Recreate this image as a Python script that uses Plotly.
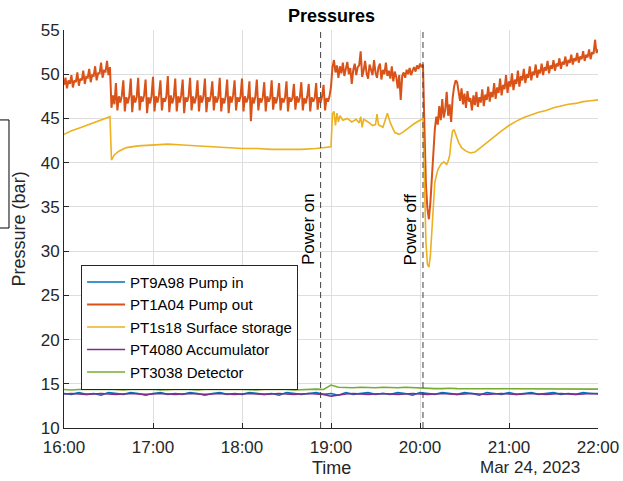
import pandas as pd
import plotly.graph_objects as go

# ---------------- data ----------------
START = pd.Timestamp("2023-03-24 16:00")
X_RANGE = ["2023-03-24 16:00", "2023-03-24 22:00"]
POWER_ON = "2023-03-24 18:53"
POWER_OFF = "2023-03-24 20:02"

series_names = ["PT9A98 Pump in", "PT1A04 Pump out", "PT1s18 Surface storage",
                "PT4080 Accumulator", "PT3038 Detector"]
series_colors = ["#0072BD", "#D95319", "#EDB120", "#7E2F8E", "#77AC30"]

# PT1A04 Pump out, one value per minute from 16:00 to 22:00
pump_out = [
    48.8, 49.6, 48.4, 49.3, 48.9, 49.9, 48.5, 49.3, 49.1, 50.2,
    48.7, 49.5, 49.3, 50.4, 48.9, 49.7, 49.6, 50.6, 49.1, 49.9,
    49.8, 50.9, 49.3, 50.1, 50.1, 51.3, 49.6, 50.4, 50.3, 51.5,
    49.9, 50.8,
    46.2, 47.6, 46.6, 49.0, 45.9,
    47.5, 46.8, 47.6, 49.3, 45.8,
    47.4, 46.7, 47.5, 49.5, 45.7,
    47.6, 46.8, 47.4, 49.6, 45.9,
    47.5, 46.9, 47.6, 49.4, 45.6,
    47.4, 46.7, 47.5, 49.7, 45.8,
    47.5, 46.8, 47.6, 49.3, 45.9,
    47.3, 46.9, 47.5, 49.8, 45.7,
    47.6, 46.7, 47.4, 49.5, 45.8,
    47.5, 46.8, 47.6, 49.4, 45.6,
    47.4, 46.9, 47.5, 49.6, 45.9,
    47.5, 46.7, 47.4, 49.3, 45.8,
    47.6, 46.8, 47.5, 49.5, 45.7,
    47.4, 46.9, 47.6, 49.2, 45.9,
    47.5, 46.8, 47.4, 49.6, 45.8,
    47.3, 46.7, 47.5, 49.4, 45.6,
    47.5, 46.8, 47.6, 49.3, 45.9,
    47.4, 46.9, 47.5, 49.5, 45.8,
    47.5, 46.8, 47.3, 49.2, 44.7,
    47.4, 46.7, 47.5, 49.4, 45.9,
    47.3, 46.8, 47.4, 49.1, 45.8,
    47.5, 46.9, 47.3, 49.3, 46.0,
    47.4, 46.7, 47.5, 49.0, 45.9,
    47.3, 46.8, 47.4, 49.2, 45.8,
    47.4, 46.9, 47.3, 48.9, 46.0,
    47.5, 46.8, 47.4, 49.1, 45.9,
    47.3, 46.7, 47.5, 48.9, 45.8,
    47.4, 46.9, 47.3, 49.0, 46.0,
    47.4, 46.8, 47.5, 48.8, 45.9,
    47.3, 46.9, 47.5, 48.6,
    50.8, 51.6, 50.2, 51.0, 49.6, 50.9, 50.1, 51.3, 49.8, 50.6,
    51.4, 50.0, 50.7, 48.9, 50.5, 51.2, 49.9, 50.8, 51.0, 52.6,
    49.7, 50.4, 51.5, 50.1, 49.5, 51.1, 50.3, 49.9, 51.6, 50.2,
    49.6, 50.8, 51.2, 49.4, 50.5, 50.0, 51.3, 49.8, 50.4, 49.5,
    50.9, 49.2, 50.3, 49.7, 48.4, 49.9, 47.1, 49.8, 50.2, 49.6,
    50.5, 50.0, 50.7, 49.9, 50.4, 50.8, 50.3, 51.0, 50.6, 51.2, 50.8,
    51.1, 44.0, 37.5, 34.8, 33.6, 35.5, 38.4, 41.5, 43.8, 45.2,
    44.3, 46.4, 44.8, 47.2, 45.1, 46.0, 48.0, 45.3, 46.6, 44.6,
    47.3, 48.6, 49.3, 49.1, 48.2, 47.0, 48.4, 46.6, 47.8, 46.2,
    48.1, 46.9, 47.3, 45.9, 47.6, 46.5, 48.0, 46.3, 47.4, 46.8,
    48.3, 46.4, 47.7, 47.1, 48.6, 46.9, 48.0, 47.4, 49.0, 47.2,
    48.5, 47.9, 49.5, 47.6, 48.8, 48.3, 49.9, 47.9, 49.2, 48.6,
    50.1, 48.2, 49.4, 48.9, 50.4, 48.6, 49.8, 49.3, 50.6, 49.0,
    50.0, 49.6, 50.9, 49.3, 50.3, 49.9, 51.1, 49.6, 50.5, 50.1,
    51.2, 49.9, 50.8, 50.4, 51.5, 50.1, 51.0, 50.6, 51.6, 50.4,
    51.2, 50.9, 51.8, 50.6, 51.4, 51.1, 52.0, 50.9, 51.6, 51.3,
    52.2, 51.1, 51.8, 51.5, 52.4, 51.3, 52.0, 51.7, 52.6, 51.5,
    52.2, 51.9, 52.8, 51.7, 52.5, 52.3, 53.9, 52.4, 52.8,
]
pump_out_minutes = list(range(len(pump_out)))

# PT1s18 Surface storage (minutes after 16:00, value)
storage_minutes = [
    0, 5, 10, 15, 20, 25, 30, 31, 32, 34,
    37, 42, 50, 60, 70, 80, 90, 100, 110, 120,
    130, 140, 150, 160, 170, 178, 180, 181, 182, 183,
    184, 185, 186, 188, 191, 194, 197, 199, 200, 201,
    202, 205, 208, 210, 211, 212, 215, 218, 220, 223,
    226, 229, 232, 236, 240, 242, 243, 244, 245, 246,
    247, 248, 249, 250, 252, 254, 256, 258, 259, 260,
    261, 262, 263, 264, 266, 268, 271, 274, 277, 280,
    285, 290, 295, 300, 305, 310, 315, 320, 325, 330,
    335, 340, 345, 350, 355, 360,
]
storage = [
    43.2, 43.6, 43.9, 44.2, 44.5, 44.8, 45.1, 45.2, 40.3, 40.9,
    41.3, 41.7, 41.9, 42.0, 42.1, 42.0, 41.9, 41.8, 41.7, 41.6,
    41.6, 41.5, 41.5, 41.5, 41.6, 41.7, 41.8, 45.5, 45.8, 44.2,
    45.6, 44.6, 45.3, 44.8, 45.0, 44.6, 44.9, 44.5, 45.2, 44.0,
    44.9, 44.6, 44.2, 44.3, 45.5, 44.3, 44.0, 45.6, 44.5, 43.4,
    43.2, 43.5, 43.9, 44.4, 44.8, 45.0, 38.0, 31.0, 28.5, 28.2,
    29.5, 32.5, 35.5, 37.8, 39.2, 39.8, 40.1, 39.8, 40.2, 40.8,
    42.5, 43.6, 43.7, 43.2, 42.3, 41.7, 41.3, 41.1, 41.2, 41.6,
    42.3, 42.9, 43.6, 44.2, 44.7, 45.1, 45.4, 45.7, 45.9, 46.2,
    46.4, 46.6, 46.7, 46.9, 47.0, 47.1,
]

# low-pressure sensors, one value every 5 minutes
low_minutes = list(range(0, 361, 5))
pump_in = [
    13.9, 13.8, 14.0, 13.8, 13.9, 13.7, 14.0, 13.9, 13.8, 14.0,
    13.9, 13.7, 13.9, 14.0, 13.8, 13.9, 13.8, 14.0, 13.9, 13.7,
    13.9, 14.0, 13.8, 13.9, 13.8, 14.0, 13.9, 13.8, 13.9, 13.7,
    14.0, 13.9, 13.8, 13.9, 14.0, 13.8, 13.9, 13.7, 14.0, 13.8,
    13.9, 14.0, 13.8, 13.9, 13.8, 14.0, 13.9, 13.7, 14.0, 13.9,
    13.8, 14.0, 13.9, 13.8, 14.0, 13.9, 13.7, 14.0, 13.9, 13.8,
    14.0, 13.8, 13.9, 14.0, 13.8, 13.9, 14.0, 13.8, 13.9, 13.8,
    14.0, 13.9, 13.9,
]
accumulator = [
    13.85, 13.9, 13.85, 13.8, 13.85, 13.9, 13.85, 13.8, 13.85, 13.9,
    13.85, 13.8, 13.85, 13.9, 13.85, 13.8, 13.85, 13.9, 13.85, 13.8,
    13.85, 13.9, 13.85, 13.8, 13.85, 13.9, 13.85, 13.8, 13.85, 13.9,
    13.85, 13.8, 13.85, 13.9, 13.85, 13.8, 13.6, 13.75, 13.85, 13.9,
    13.85, 13.8, 13.85, 13.9, 13.85, 13.8, 13.85, 13.9, 13.85, 13.8,
    13.85, 13.9, 13.85, 13.8, 13.85, 13.9, 13.85, 13.8, 13.85, 13.9,
    13.85, 13.8, 13.85, 13.9, 13.85, 13.8, 13.85, 13.9, 13.85, 13.8,
    13.85, 13.9, 13.85,
]
detector = [
    14.35, 14.3, 14.35, 14.35, 14.3, 14.35, 14.4, 14.35, 14.3, 14.35,
    14.35, 14.4, 14.35, 14.3, 14.35, 14.35, 14.4, 14.35, 14.3, 14.35,
    14.35, 14.3, 14.35, 14.4, 14.35, 14.35, 14.3, 14.35, 14.35, 14.4,
    14.35, 14.3, 14.35, 14.35, 14.4, 14.35, 14.85, 14.6, 14.55, 14.55,
    14.6, 14.55, 14.55, 14.6, 14.55, 14.55, 14.6, 14.55, 14.55, 14.5,
    14.45, 14.45, 14.5, 14.45, 14.45, 14.4, 14.45, 14.45, 14.4, 14.45,
    14.45, 14.4, 14.45, 14.4, 14.45, 14.4, 14.4, 14.45, 14.4, 14.4,
    14.4, 14.45, 14.4,
]

y_ticks = [10, 15, 20, 25, 30, 35, 40, 45, 50, 55]


def to_time(mins):
    return START + pd.to_timedelta(mins, unit="m")


# ---------------- figure ----------------
FONT = "Liberation Sans, Arial, Helvetica, sans-serif"
INK = "#262626"
GRID = "#dedede"

xs = [to_time(low_minutes), to_time(pump_out_minutes), to_time(storage_minutes),
      to_time(low_minutes), to_time(low_minutes)]
ys = [pump_in, pump_out, storage, accumulator, detector]
widths = [1.6, 2.0, 1.6, 1.6, 1.6]

fig = go.Figure()
for name, color, x, y, w in zip(series_names, series_colors, xs, ys, widths):
    fig.add_trace(go.Scatter(x=x, y=y, mode="lines", name=name,
                             line=dict(color=color, width=w)))

for t in (POWER_ON, POWER_OFF):
    fig.add_shape(type="line", xref="x", yref="paper", x0=t, x1=t, y0=0, y1=1,
                  line=dict(color="#404040", width=1, dash="6px,4px"))

for t, label in ((POWER_ON, "Power on"), (POWER_OFF, "Power off")):
    fig.add_annotation(x=t, y=0.5, xref="x", yref="paper", text=label,
                       textangle=-90, showarrow=False, xanchor="right",
                       yanchor="middle", xshift=-1,
                       font=dict(family=FONT, size=17, color="black"))

# axis labels / date
fig.add_annotation(x=0.5, y=-0.1, xref="paper", yref="paper", text="Time",
                   showarrow=False, xanchor="center", yanchor="middle",
                   font=dict(family=FONT, size=18, color=INK))
fig.add_annotation(x=0.873, y=-0.098, xref="paper", yref="paper", text="Mar 24, 2023",
                   showarrow=False, xanchor="center", yanchor="middle",
                   font=dict(family=FONT, size=17, color=INK))
fig.add_annotation(x=-0.0835, y=0.5, xref="paper", yref="paper", text="Pressure (bar)",
                   textangle=-90, showarrow=False, xanchor="center", yanchor="middle",
                   font=dict(family=FONT, size=18, color=INK))

# stray box at the left edge
fig.add_shape(type="rect", xref="paper", yref="paper", x0=-0.13, x1=-0.103,
              y0=0.5025, y1=0.774, line=dict(color="black", width=1))

fig.update_layout(
    width=623, height=481,
    margin=dict(l=64, r=25, t=30, b=53, autoexpand=False),
    paper_bgcolor="white", plot_bgcolor="white",
    font=dict(family=FONT, size=17, color=INK),
    title=dict(text="<b>Pressures</b>", x=0.532, xanchor="center", y=0.968,
               yanchor="middle", font=dict(family=FONT, size=18, color="black")),
    showlegend=True,
    legend=dict(x=0.032, y=0.41, xanchor="left", yanchor="top",
                bgcolor="white", bordercolor=INK, borderwidth=1,
                itemwidth=38,
                font=dict(family=FONT, size=15, color="black"),
                tracegroupgap=0),
    xaxis=dict(range=X_RANGE, tickformat="%H:%M", dtick=3600000, automargin=False,
               showgrid=True, gridcolor=GRID, gridwidth=1,
               showline=True, linecolor=INK, linewidth=1, mirror=False,
               ticks="inside", ticklen=5, tickcolor=INK, ticklabelstandoff=4,
               tickfont=dict(family=FONT, size=17, color=INK), zeroline=False),
    yaxis=dict(range=[10, 55], tickvals=y_ticks, automargin=False,
               showgrid=True, gridcolor=GRID, gridwidth=1,
               showline=True, linecolor=INK, linewidth=1, mirror=False,
               ticks="inside", ticklen=5, tickcolor=INK,
               tickfont=dict(family=FONT, size=17, color=INK), zeroline=False),
)

fig.write_html("out.html")
